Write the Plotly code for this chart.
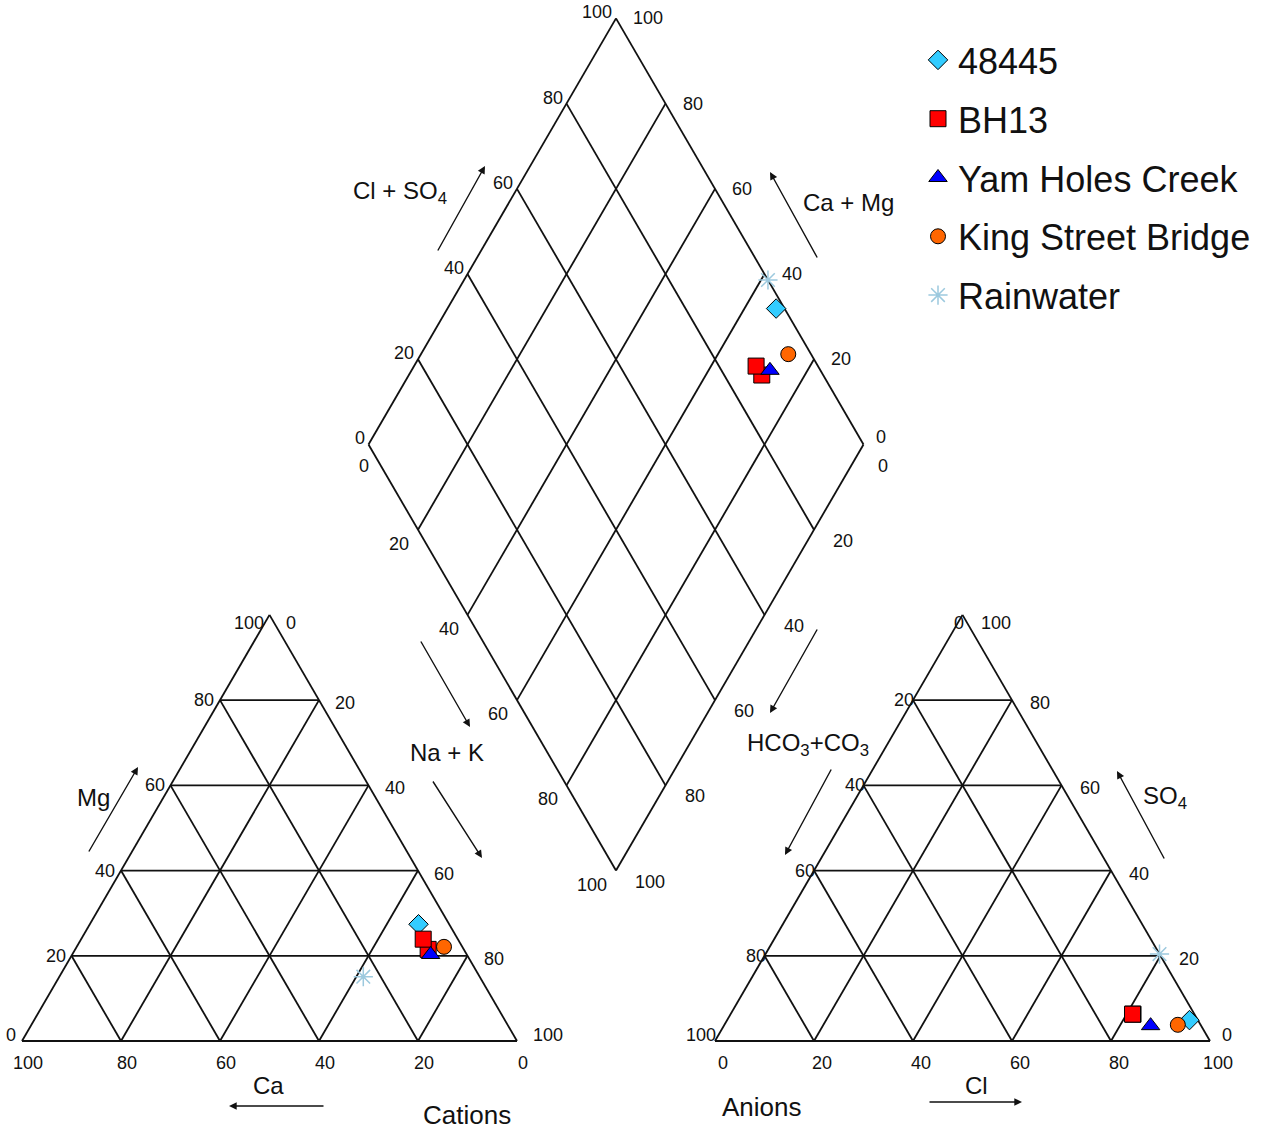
import math
import plotly.graph_objects as go

# ---------------- data (percent of meq) ----------------
series_names = ["48445", "BH13", "Yam Holes Creek", "King Street Bridge", "Rainwater"]
point_series = ["48445", "BH13", "BH13", "Yam Holes Creek", "King Street Bridge", "Rainwater"]
ca = [6.2, 7.2, 7.0, 7.3, 3.7, 23.5]
mg = [27.4, 21.5, 23.9, 20.3, 22.1, 15.1]
na_k = [66.4, 71.3, 69.1, 72.4, 74.2, 61.4]
hco3_co3 = [1.7, 12.4, 12.5, 10.2, 4.6, 0.0]
cl = [93.4, 81.3, 81.2, 86.2, 91.6, 79.6]
so4 = [4.9, 6.3, 6.3, 3.6, 3.8, 20.4]
tick_values = [0, 20, 40, 60, 80, 100]

marker_styles = {
    "48445": dict(symbol="diamond", color="#33CCFF", size=15, line=dict(color="#000000", width=1)),
    "BH13": dict(symbol="square", color="#FF0000", size=16, line=dict(color="#000000", width=1)),
    "Yam Holes Creek": dict(symbol="triangle-up", color="#0000FF", size=16, line=dict(color="#000000", width=1)),
    "King Street Bridge": dict(symbol="circle", color="#FF6600", size=15, line=dict(color="#000000", width=1)),
    "Rainwater": dict(symbol="asterisk-open", color="#9CC9DE", size=16, line=dict(color="#9CC9DE", width=1.5)),
}

FONT = "Liberation Sans, Arial, sans-serif"
W, HH = 1264, 1130
X0, SX = 22.0, 495.0      # pixel of x=0, pixels per unit
Y0, SY = 1041.0, 492.0    # pixel of y=0, pixels per unit
G = 0.4                   # gap between triangles (units of side)
H = math.sqrt(3) / 2


def cat_xy(c, m, n):
    return n + m / 2, m * H


def an_xy(h, c, s):
    return 1 + G + c + s / 2, s * H


def dia_xy(a, c):
    # a = Cl+SO4 fraction, c = Ca+Mg fraction
    bx, by = 1 + G / 2, G * H
    return bx + 0.5 * (a - c), by + H * (a + c)


fig = go.Figure()

# ---------------- grid lines ----------------
gx, gy = [], []


def seg(p, q):
    gx.extend([p[0], q[0], None])
    gy.extend([p[1], q[1], None])


for v in tick_values:
    t = v / 100
    # cation triangle
    seg(cat_xy(1 - t, t, 0), cat_xy(0, t, 1 - t))
    seg(cat_xy(t, 0, 1 - t), cat_xy(t, 1 - t, 0))
    seg(cat_xy(1 - t, 0, t), cat_xy(0, 1 - t, t))
    # anion triangle
    seg(an_xy(1 - t, 0, t), an_xy(0, 1 - t, t))
    seg(an_xy(t, 1 - t, 0), an_xy(t, 0, 1 - t))
    seg(an_xy(1 - t, t, 0), an_xy(0, t, 1 - t))
    # diamond
    seg(dia_xy(t, 0), dia_xy(t, 1))
    seg(dia_xy(0, t), dia_xy(1, t))

fig.add_trace(go.Scatter(x=gx, y=gy, mode="lines", line=dict(color="#111111", width=1.8),
                         hoverinfo="skip", showlegend=False))

# ---------------- data points ----------------
for name in series_names:
    xs, ys = [], []
    idx = [i for i, s in enumerate(point_series) if s == name]
    for i in idx:
        p = cat_xy(ca[i] / 100, mg[i] / 100, na_k[i] / 100)
        xs.append(p[0]); ys.append(p[1])
    for i in idx:
        p = an_xy(hco3_co3[i] / 100, cl[i] / 100, so4[i] / 100)
        xs.append(p[0]); ys.append(p[1])
    for i in idx:
        p = dia_xy((cl[i] + so4[i]) / 100, (ca[i] + mg[i]) / 100)
        xs.append(p[0]); ys.append(p[1])
    st = marker_styles[name]
    fig.add_trace(go.Scatter(x=xs, y=ys, mode="markers", name=name, legendgroup=name,
                             marker=dict(symbol=st["symbol"], color=st["color"], size=st["size"],
                                         line=st["line"])))

# ---------------- labels ----------------
ann = []


def lab(p, text, xanchor, yanchor="middle", xshift=0, yshift=0, size=18):
    ann.append(dict(x=p[0], y=p[1], xref="x", yref="y", text=text, showarrow=False,
                    xanchor=xanchor, yanchor=yanchor, xshift=xshift, yshift=yshift,
                    font=dict(family=FONT, size=size, color="#111111")))


for v in tick_values:
    f = v / 100
    s = str(v)
    # cation triangle
    lab(cat_xy(f, 0, 1 - f), s, "center", "top", xshift=6, yshift=-10)
    lab(cat_xy(1 - f, f, 0), s, "right", xshift=-4,
        yshift=-8 if v == 100 else (6 if v == 0 else 0))
    lab(cat_xy(0, 1 - f, f), s, "left", xshift=14,
        yshift=-8 if v == 0 else (6 if v == 100 else -3))
    # anion triangle
    lab(an_xy(1 - f, f, 0), s, "center", "top", xshift=8, yshift=-10)
    lab(an_xy(f, 0, 1 - f), s, "right", xshift=3,
        yshift=-8 if v == 0 else (6 if v == 100 else 0))
    lab(an_xy(0, 1 - f, f), s, "left", xshift=16 if v else 10,
        yshift=-8 if v == 100 else (6 if v == 0 else -3))
    # diamond
    lab(dia_xy(f, 1), s, "right", xshift=-2, yshift=6)
    if v == 0:
        lab(dia_xy(1, f), s, "left", xshift=10, yshift=7)
        lab(dia_xy(0, 1 - f), s, "right", xshift=2, yshift=-22)
        lab(dia_xy(1 - f, 0), s, "left", xshift=12, yshift=-22)
    else:
        lab(dia_xy(1, f), s, "left", xshift=15)
        lab(dia_xy(0, 1 - f), s, "right", xshift=-7, yshift=-14)
        lab(dia_xy(1 - f, 0), s, "left", xshift=17, yshift=-11)


def ptext(px, py, text, size=24):
    ann.append(dict(x=px / W, y=1 - py / HH, xref="paper", yref="paper", text=text, showarrow=False,
                    xanchor="center", yanchor="middle",
                    font=dict(family=FONT, size=size, color="#111111")))


def parrow(tail, tip):
    ann.append(dict(x=tip[0] / W, y=1 - tip[1] / HH, xref="paper", yref="paper", text="",
                    showarrow=True, axref="pixel", ayref="pixel",
                    ax=tail[0] - tip[0], ay=tail[1] - tip[1],
                    arrowhead=2, arrowsize=1.1, arrowwidth=1.4, arrowcolor="#111111", standoff=0))


ptext(400, 192, "Cl + SO<sub>4</sub>")
ptext(848, 202, "Ca + Mg")
ptext(447, 752, "Na + K")
ptext(808, 744, "HCO<sub>3</sub>+CO<sub>3</sub>")
ptext(93, 797, "Mg")
ptext(268, 1085, "Ca")
ptext(976, 1085, "Cl")
ptext(1165, 797, "SO<sub>4</sub>")
ptext(467, 1115, "Cations", size=26)
ptext(762, 1107, "Anions", size=26)

parrow((437, 252), (485, 166))
parrow((818, 259), (770, 172))
parrow((420, 640), (470, 727))
parrow((432, 780), (482, 858))
parrow((818, 628), (770, 713))
parrow((832, 768), (785, 855))
parrow((88, 853), (138, 767))
parrow((325, 1106), (229, 1106))
parrow((928, 1102), (1022, 1102))
parrow((1165, 860), (1117, 771))

fig.update_layout(
    width=W, height=HH,
    margin=dict(l=0, r=0, t=0, b=0),
    paper_bgcolor="white", plot_bgcolor="white",
    xaxis=dict(range=[-X0 / SX, (W - X0) / SX], visible=False, fixedrange=True),
    yaxis=dict(range=[(Y0 - HH) / SY, Y0 / SY], visible=False, fixedrange=True),
    showlegend=True,
    legend=dict(x=918 / W, y=1 - 30 / HH, xanchor="left", yanchor="top",
                font=dict(family=FONT, size=36, color="#111111"),
                traceorder="grouped", tracegroupgap=9, bgcolor="rgba(0,0,0,0)",
                itemwidth=30),
    annotations=ann,
)

fig.write_html("out.html", config={"displayModeBar": False},
               post_script="document.body.style.margin='0';")
